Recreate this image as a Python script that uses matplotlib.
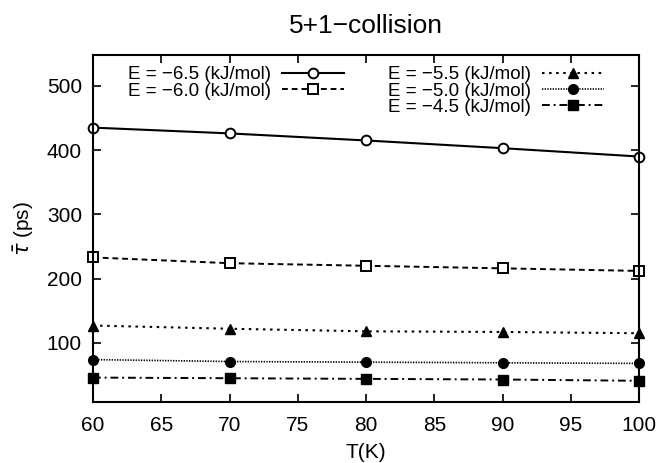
import matplotlib
matplotlib.use("Agg")
import matplotlib.pyplot as plt

plt.rcParams['font.family'] = ['Liberation Sans', 'DejaVu Sans']

T = [60, 70, 80, 90, 100]
tau_m65 = [435, 426, 415, 403, 390]
tau_m60 = [233, 224, 220, 216, 212]
tau_m55 = [127, 122, 118, 117, 115]
tau_m50 = [74, 71, 70, 69, 68]
tau_m45 = [46, 45, 44, 43, 41]

labels = ["E = \u22126.5 (kJ/mol)", "E = \u22126.0 (kJ/mol)", "E = \u22125.5 (kJ/mol)",
          "E = \u22125.0 (kJ/mol)", "E = \u22124.5 (kJ/mol)"]

W, H = 657, 463
fig = plt.figure(figsize=(W / 100, H / 100), dpi=100)
L, R, TOP, BOT = 93, 639, 55, 402
ax = fig.add_axes([L / W, 1 - BOT / H, (R - L) / W, (BOT - TOP) / H])

h1, = ax.plot(T, tau_m65, '-', color='black', lw=1.5, marker='o', mfc='white', mec='black', ms=7, mew=1.4)
h2, = ax.plot(T, tau_m60, '--', color='black', lw=1.4, marker='s', mfc='white', mec='black', ms=7, mew=1.4, dashes=(3, 2))
h3, = ax.plot(T, tau_m55, ':', color='black', lw=1.5, marker='^', mfc='black', mec='black', ms=7, dashes=(1.2, 2.2))
h4, = ax.plot(T, tau_m50, ':', color='black', lw=1.2, marker='o', mfc='black', mec='black', ms=7, dashes=(0.8, 0.8))
h5, = ax.plot(T, tau_m45, '-.', color='black', lw=1.4, marker='s', mfc='black', mec='black', ms=7, dashes=(4, 2, 1, 2))

for h in (h1, h2, h3, h4, h5):
    h.set_clip_on(False)

ax.set_xlim(60, 100)
ax.set_ylim(8, 548)
ax.set_xticks([60, 65, 70, 75, 80, 85, 90, 95, 100])
ax.set_yticks([100, 200, 300, 400, 500])
ax.tick_params(direction='in', top=True, right=True, labelsize=15, length=6, width=1.2)
ax.tick_params(axis='x', pad=10)
ax.tick_params(axis='y', pad=8)
for s in ax.spines.values():
    s.set_linewidth(1.5)

ax.set_xlabel("T(K)", fontsize=15, labelpad=6)
ax.set_ylabel(r"$\bar{\tau}$ (ps)", fontsize=15, labelpad=8)
ax.set_title("5+1\u2212collision", fontsize=19, pad=16)

common = dict(markerfirst=False, frameon=False, fontsize=13.5, handlelength=3.3,
              labelspacing=-0.04, borderaxespad=0.0, borderpad=0.0, handletextpad=0.6)
leg1 = ax.legend([h1, h2], labels[:2], loc='upper left', bbox_to_anchor=(0.064, 0.968), **common)
ax.add_artist(leg1)
ax.legend([h3, h4, h5], labels[2:], loc='upper left', bbox_to_anchor=(0.54, 0.968), **common)

fig.savefig("out.png", dpi=100)
